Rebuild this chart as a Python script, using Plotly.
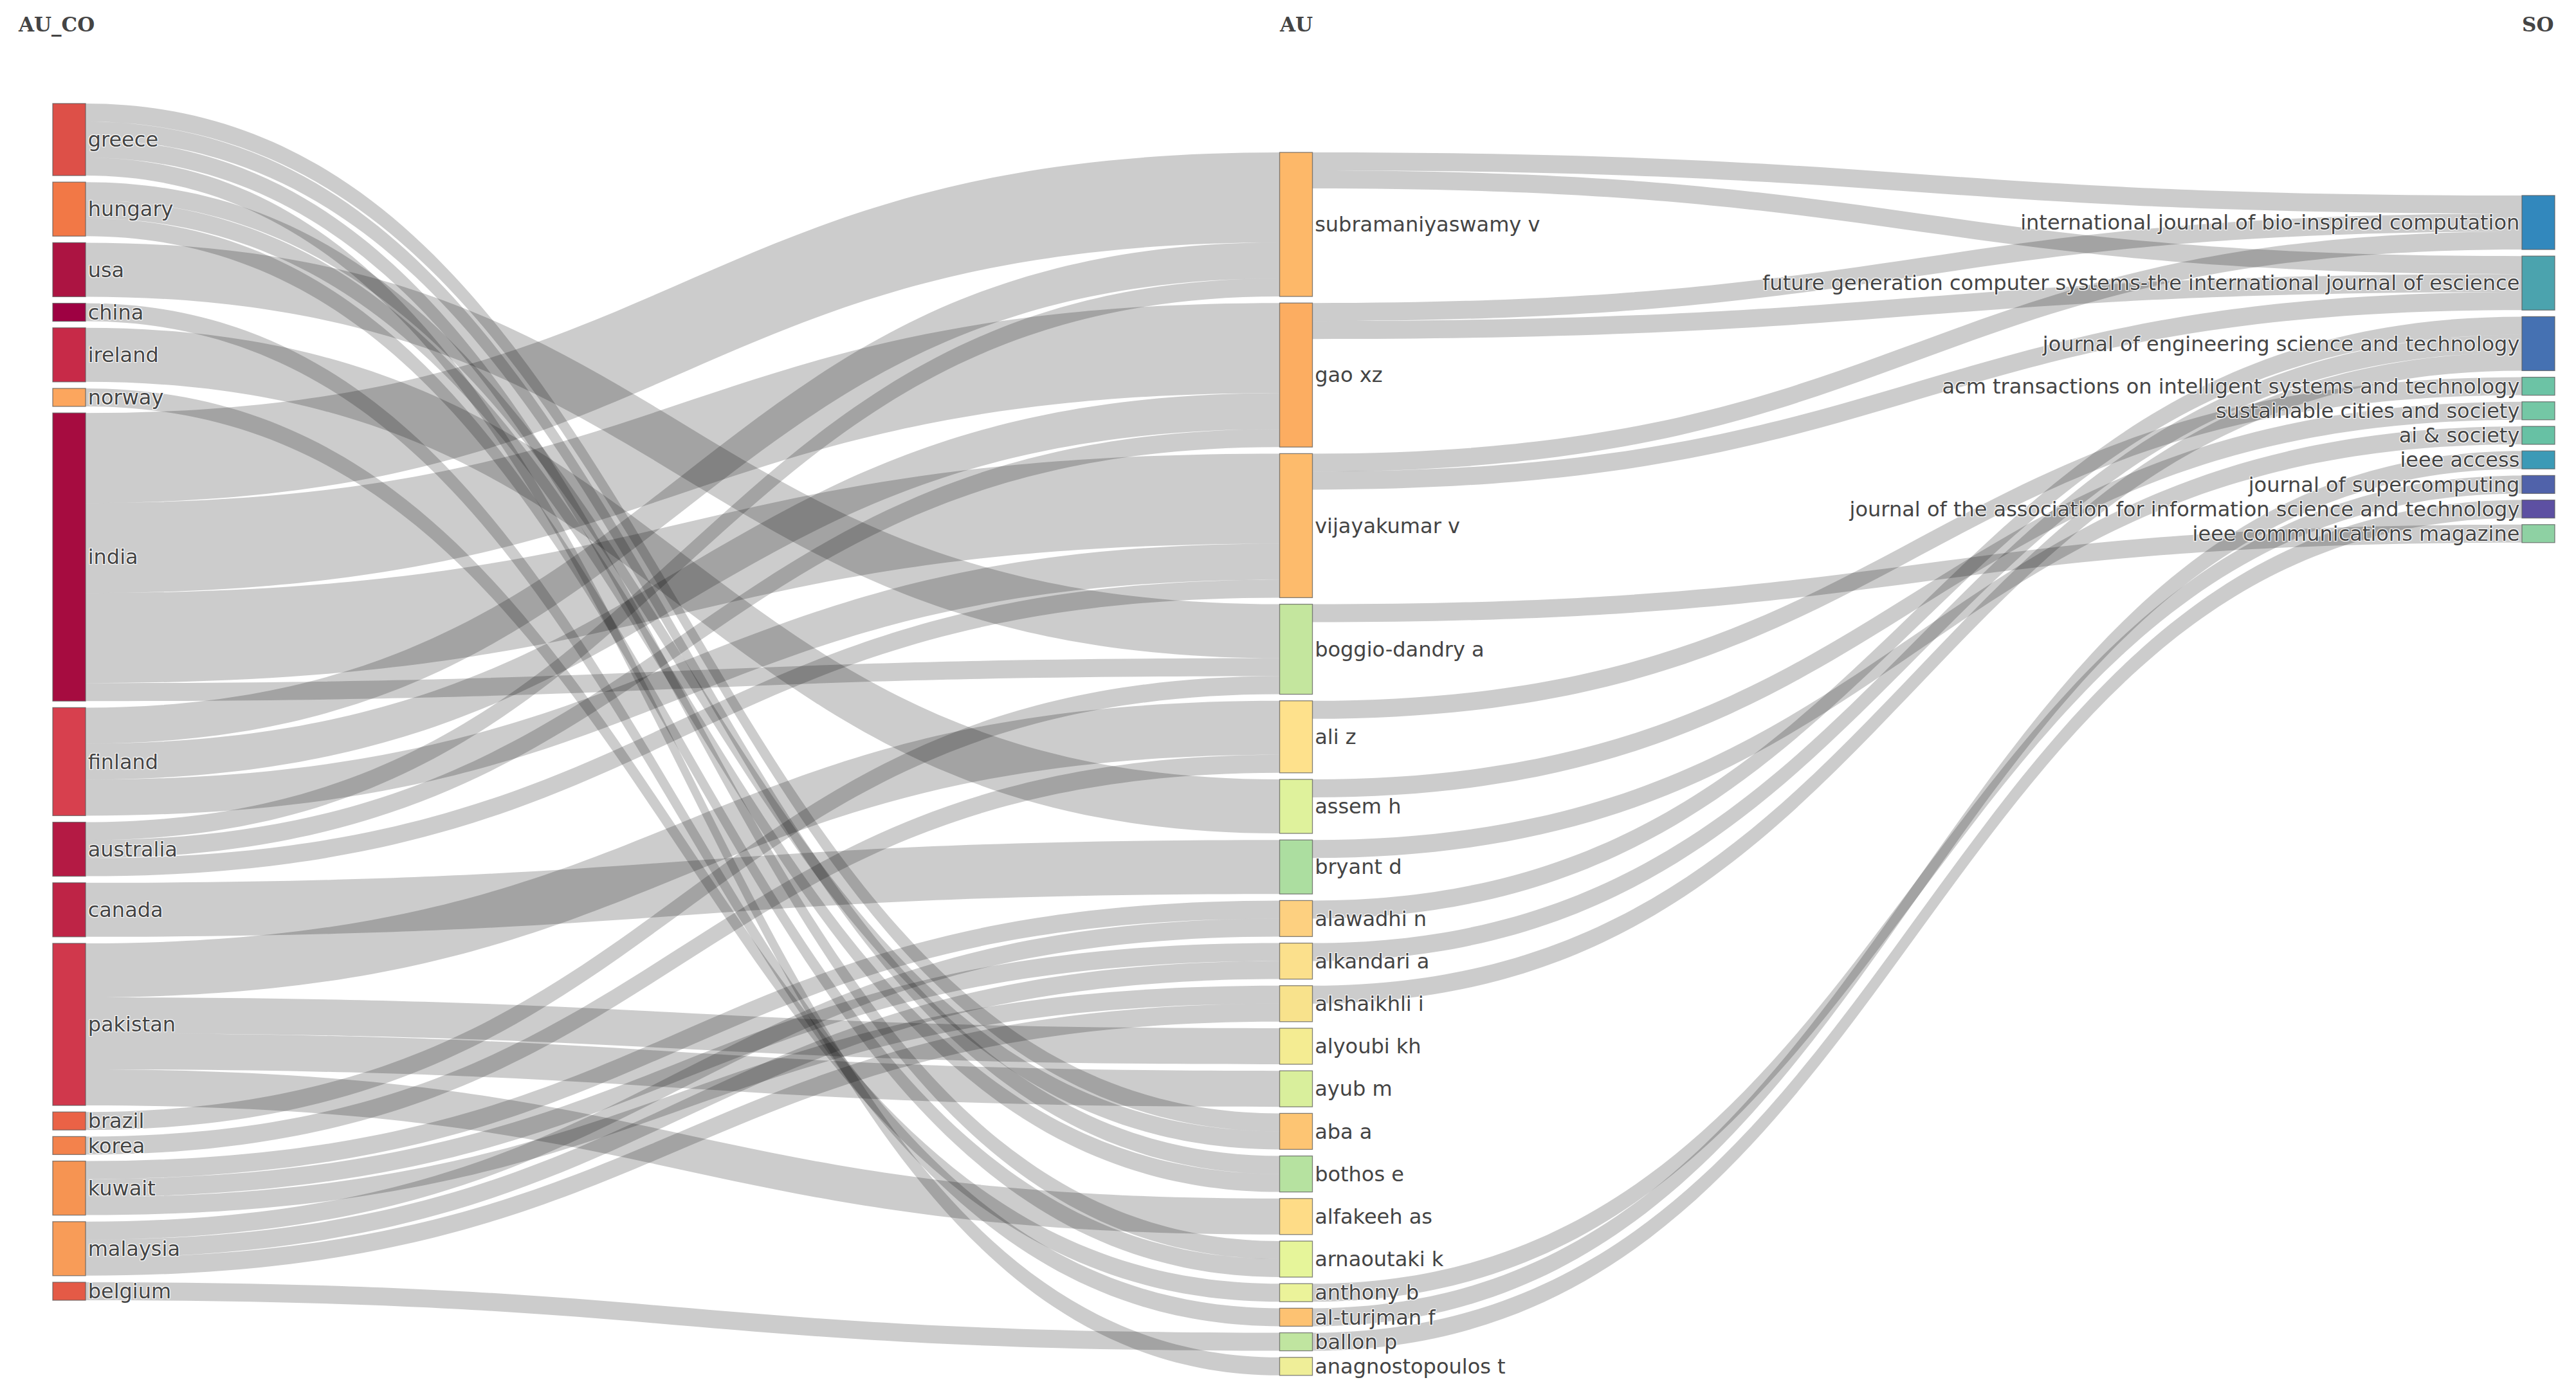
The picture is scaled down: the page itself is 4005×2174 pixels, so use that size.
import plotly.graph_objects as go

# ---------------- data ----------------
countries = ["greece", "hungary", "usa", "china", "ireland", "norway", "india", "finland",
             "australia", "canada", "pakistan", "brazil", "korea", "kuwait", "malaysia", "belgium"]
authors = ["subramaniyaswamy v", "gao xz", "vijayakumar v", "boggio-dandry a", "ali z", "assem h",
           "bryant d", "alawadhi n", "alkandari a", "alshaikhli i", "alyoubi kh", "ayub m", "aba a",
           "bothos e", "alfakeeh as", "arnaoutaki k", "anthony b", "al-turjman f", "ballon p",
           "anagnostopoulos t"]
sources = ["international journal of bio-inspired computation",
           "future generation computer systems-the international journal of escience",
           "journal of engineering science and technology",
           "acm transactions on intelligent systems and technology",
           "sustainable cities and society",
           "ai & society",
           "ieee access",
           "journal of supercomputing",
           "journal of the association for information science and technology",
           "ieee communications magazine"]

country_colors = ["#DD5048", "#F27846", "#AC1442", "#9E0142", "#C72A48", "#FCA65E", "#A60C40", "#D7404E",
                  "#B41A44", "#BE2446", "#D0384C", "#EA6246", "#F3824C", "#F69452", "#F89C58", "#E45A46"]
author_colors = ["#FDB869", "#FCAD61", "#FDBB6C", "#C4E69E", "#FEE18C", "#DFF29C", "#ACDEA0", "#FDD080",
                 "#FBE08C", "#F8E28C", "#F4EC92", "#D9EF9C", "#FDC573", "#B6E2A0", "#FEDC87", "#E6F59A",
                 "#EBF39A", "#FDC272", "#C0E5A0", "#EFEE98"]
source_colors = ["#3288BD", "#4BA3AE", "#4571B2", "#6CC3A5", "#74C7A5", "#67C1A4", "#3C9AB6", "#5062AA",
                 "#5D50A2", "#8ED1A3"]

# country -> author links
co_src = ["india", "finland", "australia", "india", "finland", "australia", "india", "finland", "australia",
          "usa", "india", "brazil", "pakistan", "korea", "ireland", "canada",
          "kuwait", "malaysia", "kuwait", "malaysia", "kuwait", "malaysia",
          "pakistan", "pakistan", "greece", "hungary", "greece", "hungary", "pakistan",
          "greece", "hungary", "norway", "china", "belgium", "greece"]
co_tgt = ["subramaniyaswamy v", "subramaniyaswamy v", "subramaniyaswamy v", "gao xz", "gao xz", "gao xz",
          "vijayakumar v", "vijayakumar v", "vijayakumar v",
          "boggio-dandry a", "boggio-dandry a", "boggio-dandry a", "ali z", "ali z", "assem h", "bryant d",
          "alawadhi n", "alawadhi n", "alkandari a", "alkandari a", "alshaikhli i", "alshaikhli i",
          "alyoubi kh", "ayub m", "aba a", "aba a", "bothos e", "bothos e", "alfakeeh as",
          "arnaoutaki k", "arnaoutaki k", "anthony b", "al-turjman f", "ballon p", "anagnostopoulos t"]
co_val = [5, 2, 1, 5, 2, 1, 5, 2, 1,
          3, 1, 1, 3, 1, 3, 3,
          1, 1, 1, 1, 1, 1,
          2, 2, 1, 1, 1, 1, 2,
          1, 1, 1, 1, 1, 1]

# author -> source links
au_src = ["subramaniyaswamy v", "subramaniyaswamy v", "gao xz", "gao xz", "vijayakumar v", "vijayakumar v",
          "boggio-dandry a", "ali z", "assem h", "bryant d", "alawadhi n", "alkandari a", "alshaikhli i",
          "anthony b", "al-turjman f", "ballon p"]
au_tgt = [sources[0], sources[1], sources[0], sources[1], sources[0], sources[1],
          sources[9], sources[3], sources[4], sources[5], sources[2], sources[2], sources[2],
          sources[7], sources[6], sources[8]]
au_val = [1, 1, 1, 1, 1, 1, 1, 1, 1, 1, 1, 1, 1, 1, 1, 1]

field_titles = ["AU_CO", "AU", "SO"]

# ---------------- layout constants ----------------
W, HGT = 4005, 2174
OFF = 8                      # page body margin of the html output
PAD = 10.2
THICK = 51
UNIT = 28.0                  # px per link unit wanted
TOP = 161                    # top of the first column (px in the picture)
col_center_px = [107.5, 2015, 3946.5]
col_top_rel = [0, 76, 143]   # column tops below the first column top

labels = countries + authors + sources
colors = country_colors + author_colors + source_colors
idx = {n: i for i, n in enumerate(labels)}
src = [idx[s] for s in co_src + au_src]
tgt = [idx[t] for t in co_tgt + au_tgt]
val = co_val + au_val

inflow = [0.0] * len(labels)
outflow = [0.0] * len(labels)
for s, t, v in zip(src, tgt, val):
    outflow[s] += v
    inflow[t] += v
node_val = [max(a, b) for a, b in zip(inflow, outflow)]

# domain height so that the first column (binding in the layout) gets UNIT px per unit
left_sum = sum(node_val[idx[n]] for n in countries)
H = UNIT * left_sum + (len(countries) - 1) * PAD
M_T = TOP - OFF
M_B = HGT - M_T - H
M_L, M_R = 60, 40
dom_w = W - M_L - M_R
ky = UNIT

columns = [countries, authors, sources]
node_x, node_y = [0.0] * len(labels), [0.0] * len(labels)
for ci, col in enumerate(columns):
    y = col_top_rel[ci]
    for n in col:
        h = node_val[idx[n]] * ky
        node_x[idx[n]] = (col_center_px[ci] - OFF - M_L) / dom_w
        node_y[idx[n]] = (y + h / 2) / H
        y += h + PAD

fig = go.Figure(go.Sankey(
    arrangement="snap",
    node=dict(label=labels, color=colors, x=node_x, y=node_y, pad=PAD, thickness=THICK,
              line=dict(color="rgba(90,90,90,0.75)", width=1.3)),
    link=dict(source=src, target=tgt, value=val, color="rgba(0,0,0,0.2)"),
    textfont=dict(family="DejaVu Sans, Verdana, sans-serif", size=32, color="#444"),
))

ann_y = 1 + (M_T - (38 - OFF)) / H
title_font = dict(family="DejaVu Serif, serif", size=31, color="#444")
fig.update_layout(
    width=W, height=HGT,
    margin=dict(l=M_L, r=M_R, t=M_T, b=M_B),
    paper_bgcolor="white", plot_bgcolor="white",
    annotations=[
        dict(text="<b>" + field_titles[0] + "</b>", x=(26 - OFF - M_L) / dom_w, y=ann_y,
             xref="paper", yref="paper", xanchor="left", yanchor="middle", showarrow=False, font=title_font),
        dict(text="<b>" + field_titles[1] + "</b>", x=(2015 - OFF - M_L) / dom_w, y=ann_y,
             xref="paper", yref="paper", xanchor="center", yanchor="middle", showarrow=False, font=title_font),
        dict(text="<b>" + field_titles[2] + "</b>", x=(3972 - OFF - M_L) / dom_w, y=ann_y,
             xref="paper", yref="paper", xanchor="right", yanchor="middle", showarrow=False, font=title_font),
    ],
)

fig.write_html("out.html")
